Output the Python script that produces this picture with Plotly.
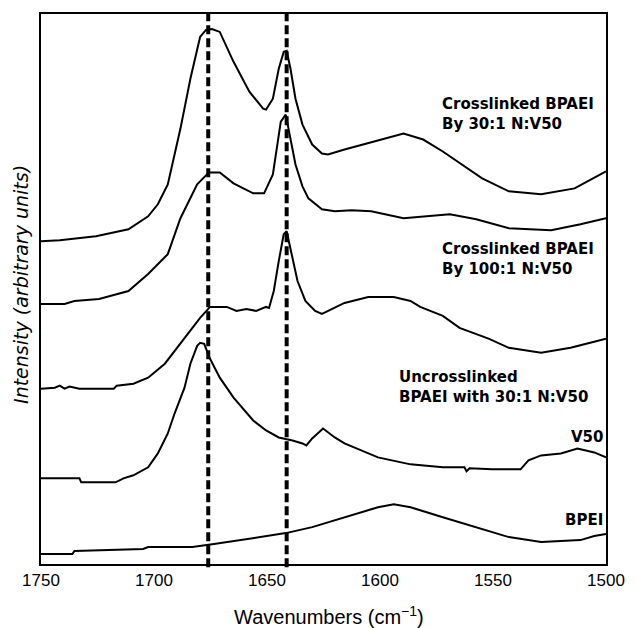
import plotly.graph_objects as go

# FTIR spectra, stacked with vertical offsets (arbitrary intensity units)
cl30_wn = [1750, 1741.7, 1725.7, 1711.3, 1702.6, 1698.3, 1693.9, 1688.3, 1683.9, 1679.6,
           1677, 1674.3, 1670.9, 1664.8, 1657.8, 1651.7, 1650.4, 1647.4, 1644.8, 1642.6,
           1641.3, 1639.6, 1637.4, 1634.3, 1630, 1625.7, 1623, 1615.7, 1602.6, 1589.6,
           1580.9, 1572.2, 1554.8, 1543, 1528.7, 1513.9, 1500]
cl30_int = [324, 325, 329, 336, 349, 361, 381, 437, 487, 529,
            536, 537, 534, 504, 474, 457, 456, 467, 497, 514,
            515, 497, 467, 441, 421, 412, 411, 416, 424, 432,
            426, 414, 387, 374, 371, 377, 394]

cl100_wn = [1750, 1739.6, 1735.2, 1724.3, 1711.3, 1702.6, 1693.9, 1688.3, 1680.9, 1675.7,
            1670.9, 1664.8, 1656.1, 1651.3, 1647.4, 1645.2, 1643.9, 1641.7, 1639.6, 1637.4,
            1634.3, 1631.7, 1625.7, 1620, 1612.6, 1603.9, 1589.6, 1569.1, 1557.4, 1543,
            1524.3, 1511.3, 1500]
cl100_int = [261, 261, 264, 266, 274, 291, 311, 347, 381, 393,
             393, 382, 372, 372, 391, 424, 444, 451, 427, 401,
             379, 367, 356, 354, 355, 354, 347, 351, 346, 337,
             335, 341, 347]

uncl_wn = [1750, 1743.9, 1741.7, 1739.6, 1737.4, 1733, 1717.8, 1716.5, 1709.1, 1702.6,
           1695.2, 1688.3, 1683.9, 1679.6, 1675.2, 1667.8, 1663.5, 1659.1, 1654.8, 1650.4,
           1649.1, 1647, 1644.8, 1642.6, 1641.3, 1639.6, 1636.5, 1633, 1628.7, 1625.7,
           1621.3, 1615.7, 1605.2, 1593.9, 1586.5, 1582.2, 1572.2, 1564.8, 1551.7, 1543,
           1528.7, 1515.7, 1507, 1500]
uncl_int = [176, 177, 179, 176, 178, 176, 176, 179, 181, 187,
            201, 221, 234, 247, 258, 258, 254, 256, 254, 258,
            257, 274, 304, 331, 334, 317, 284, 264, 254, 251,
            256, 262, 268, 268, 264, 258, 249, 237, 226, 217,
            212, 217, 222, 226]

v50_wn = [1750, 1733, 1732.2, 1717, 1713.5, 1709.1, 1702.6, 1698.3, 1693.9, 1690.9,
          1686.5, 1683.9, 1680.9, 1679.6, 1677.8, 1675.2, 1670.9, 1664.8, 1656.1, 1650.4,
          1644.8, 1638.7, 1634.3, 1632.6, 1630, 1625.2, 1620, 1615.7, 1600.9, 1586.5,
          1572.2, 1562.6, 1561.7, 1560.4, 1550.4, 1537.8, 1534.3, 1528.7, 1520, 1512.6,
          1505.2, 1500]
v50_int = [86, 86, 82, 82, 86, 89, 97, 111, 131, 151,
           177, 201, 219, 222, 221, 206, 187, 167, 144, 134,
           127, 124, 121, 119, 126, 136, 127, 121, 107, 100,
           97, 97, 93, 96, 95, 95, 104, 109, 111, 116,
           112, 107]

bpei_wn = [1750, 1736.1, 1735.2, 1704.8, 1702.6, 1683, 1673.5, 1659.1, 1641.7, 1630,
           1615.7, 1600.9, 1593.9, 1586.5, 1572.2, 1557.4, 1543, 1528.7, 1511.3, 1505.2,
           1500]
bpei_int = [10, 10, 13, 15, 17, 17, 20, 25, 31, 37,
            47, 57, 60, 57, 47, 37, 27, 22, 24, 28,
            30]

# Reference band positions marked by dashed lines
band_positions = [1676, 1641.3]

x_ticks = [1750, 1700, 1650, 1600, 1550, 1500]

series = [
    (cl30_wn, cl30_int),
    (cl100_wn, cl100_int),
    (uncl_wn, uncl_int),
    (v50_wn, v50_int),
    (bpei_wn, bpei_int),
]

fig = go.Figure()
for wn, inten in series:
    fig.add_trace(go.Scatter(x=wn, y=inten, mode="lines",
                             line=dict(color="black", width=2),
                             showlegend=False, hoverinfo="skip"))

for pos in band_positions:
    fig.add_shape(type="line", xref="x", yref="paper",
                  x0=pos, x1=pos, y0=-0.006, y1=1,
                  line=dict(color="black", width=4, dash="9px,4px"))

label_font = dict(family="DejaVu Sans", size=15, color="black", weight="bold")
labels = [
    (1573.5, 452, "Crosslinked BPAEI<br>By 30:1 N:V50", "left"),
    (1573.5, 306, "Crosslinked BPAEI<br>By 100:1 N:V50", "left"),
    (1592.5, 178, "Uncrosslinked<br>BPAEI with 30:1 N:V50", "left"),
    (1500.4, 127, "V50", "right"),
    (1500.6, 44, "BPEI", "right"),
]
for lx, ly, txt, anchor in labels:
    fig.add_annotation(x=lx, y=ly, text=txt, showarrow=False,
                       xanchor=anchor, yanchor="middle", align="left",
                       font=label_font)

# Axis titles
fig.add_annotation(xref="paper", yref="paper", x=-0.0365, y=0.508,
                   text="Intensity (arbitrary units)", textangle=-90,
                   showarrow=False, xanchor="center", yanchor="middle",
                   font=dict(family="DejaVu Sans", size=19, color="black",
                             style="italic"))
fig.add_annotation(xref="paper", yref="paper", x=0.5096, y=-0.094,
                   text="Wavenumbers (cm<sup>\u22121</sup>)",
                   showarrow=False, xanchor="center", yanchor="middle",
                   font=dict(family="Liberation Sans", size=20, color="black"))

fig.update_xaxes(range=[1750, 1500], tickvals=x_ticks,
                 ticktext=[str(t) for t in x_ticks],
                 showgrid=False, zeroline=False,
                 showline=True, linecolor="black", linewidth=2, mirror=True,
                 ticks="", tickfont=dict(family="Liberation Sans", size=17,
                                         color="black"))
fig.update_yaxes(range=[0, 552], showticklabels=False, showgrid=False,
                 zeroline=False, showline=True, linecolor="black",
                 linewidth=2, mirror=True, ticks="")

fig.update_layout(width=637, height=628,
                  margin=dict(l=41, r=21, t=12, b=64),
                  plot_bgcolor="white", paper_bgcolor="white")

fig.write_html("out.html")
